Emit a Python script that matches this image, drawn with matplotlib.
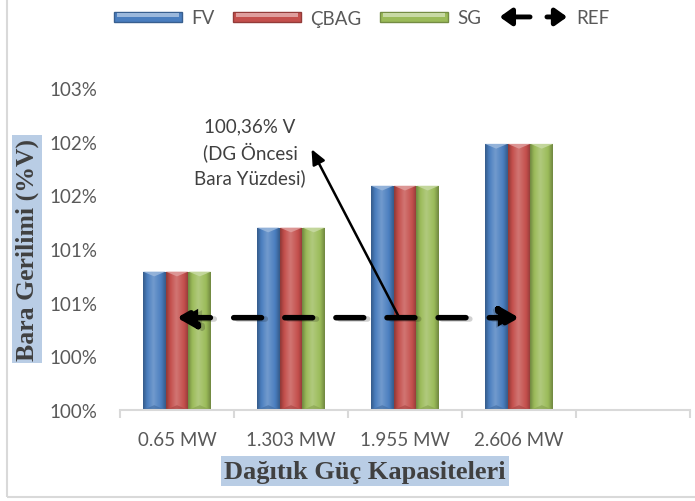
import numpy as np
import matplotlib
matplotlib.use("Agg")
import matplotlib.pyplot as plt
from matplotlib.colors import LinearSegmentedColormap, to_rgb
from matplotlib.patches import Patch, Rectangle, FancyArrowPatch, Polygon
from matplotlib.legend_handler import HandlerBase
from matplotlib.lines import Line2D

# ---- data ----
categories = ["0.65 MW", "1.303 MW", "1.955 MW", "2.606 MW", ""]
series_names = ["FV", "ÇBAG", "SG"]
fv = [100.79, 101.20, 101.59, 101.98]
cbag = [100.79, 101.20, 101.59, 101.98]
sg = [100.79, 101.20, 101.59, 101.98]
ref_value = 100.36
y_ticks = [99.5, 100.0, 100.5, 101.0, 101.5, 102.0, 102.5]
y_tick_labels = ["100%", "100%", "101%", "101%", "102%", "102%", "103%"]
annotation_text = "100,36% V\n(DG Öncesi\nBara Yüzdesi)"
ylabel_text = "Bara Gerilimi (%V)"
xlabel_text = "Dağıtık Güç Kapasiteleri"

colors = ["#4A7EBF", "#C44F4C", "#9BBB59"]
text_gray = "#595959"
label_gray = "#404040"
box_blue = "#B9CDE5"

plt.rcParams["font.family"] = ["Lato", "DejaVu Sans"]

fig = plt.figure(figsize=(6.95, 5.02), dpi=100)
ax = fig.add_axes([120 / 695, 91 / 502, 570 / 695, 322 / 502])

n_cat = len(categories)
x = np.arange(n_cat)
bw = 0.2
offsets = [-bw, 0.0, bw]
all_series = [fv, cbag, sg]


def shade_cmap(base):
    r, g, b = to_rgb(base)
    dark = tuple(c * 0.72 for c in (r, g, b))
    light = tuple(min(1, c + (1 - c) * 0.22) for c in (r, g, b))
    return LinearSegmentedColormap.from_list(
        "s", [(0.0, dark), (0.18, (r, g, b)), (0.45, light), (0.8, (r, g, b)), (1.0, dark)]
    )


grad = np.linspace(0, 1, 64).reshape(1, -1)
bevel_h = 0.045
for vals, off, col in zip(all_series, offsets, colors):
    xs = x[: len(vals)] + off
    bars = ax.bar(xs, np.array(vals) - y_ticks[0], bottom=y_ticks[0], width=bw,
                  color=col, edgecolor="none", zorder=2)
    cmap = shade_cmap(col)
    r, g, b = to_rgb(col)
    top_col = tuple(min(1, c + (1 - c) * 0.45) for c in (r, g, b))
    for rect, v in zip(bars, vals):
        x0 = rect.get_x()
        x1 = x0 + rect.get_width()
        im = ax.imshow(grad, extent=[x0, x1, y_ticks[0], v], aspect="auto",
                       cmap=cmap, zorder=2.1, interpolation="bicubic")
        im.set_clip_path(rect)
        ax.add_patch(Polygon([[x0, v], [x1, v], [(x0 + x1) / 2, v - bevel_h]],
                             closed=True, facecolor=top_col, edgecolor="none",
                             alpha=0.85, zorder=2.2))
        ax.add_patch(Polygon([[x0, y_ticks[0]], [x1, y_ticks[0]], [(x0 + x1) / 2, y_ticks[0] + bevel_h]],
                             closed=True, facecolor=tuple(c * 0.85 for c in (r, g, b)),
                             edgecolor="none", alpha=0.6, zorder=2.2))

ax.set_xlim(-0.5, n_cat - 0.5)
ax.set_ylim(y_ticks[0], y_ticks[-1])

# axes styling
for s in ["top", "right", "left"]:
    ax.spines[s].set_visible(False)
ax.spines["bottom"].set_color("#D9D9D9")
ax.spines["bottom"].set_linewidth(1.5)
ax.set_yticks(y_ticks)
ax.set_yticklabels(y_tick_labels)
ax.tick_params(axis="y", length=0, pad=16, labelsize=13.5, labelcolor=text_gray)
ax.set_xticks(x)
ax.set_xticklabels(categories)
ax.tick_params(axis="x", length=0, pad=15, labelsize=13.5, labelcolor=text_gray)
ax.set_xticks(np.arange(n_cat + 1) - 0.5, minor=True)
ax.tick_params(axis="x", which="minor", length=6, width=1.5, color="#D9D9D9")

# reference line: dashed double-headed arrow
ref_x0 = x[0] + 0.0
ref_x1 = x[3] + 0.0
shadow = FancyArrowPatch((ref_x0 + 0.01, ref_value - 0.012), (ref_x1 + 0.01, ref_value - 0.012),
                         arrowstyle="<|-|>,head_length=7,head_width=4", mutation_scale=1.6,
                         linestyle=(0, (5, 4.2)), linewidth=4, color="#000000", alpha=0.18,
                         zorder=3)
ax.add_patch(shadow)
ref_arrow = FancyArrowPatch((ref_x0, ref_value), (ref_x1, ref_value),
                            arrowstyle="<|-|>,head_length=7,head_width=4", mutation_scale=1.6,
                            linestyle=(0, (5, 4.2)), linewidth=4, color="black", zorder=3.1,
                            shrinkA=0, shrinkB=0)
ax.add_patch(ref_arrow)

# annotation text and pointer
ax.text(0.64, 102.23, annotation_text, ha="center", va="top", fontsize=13.5,
        color=label_gray, linespacing=1.45, zorder=4)
ax.annotate("", xy=(1.18, 101.93), xytext=(1.95, ref_value),
            arrowprops=dict(arrowstyle="-|>,head_length=0.9,head_width=0.4",
                            color="black", lw=1.8, shrinkA=0, shrinkB=0),
            zorder=4)

# axis titles with filled boxes
serif = ["Liberation Serif", "DejaVu Serif"]
fig.text(27 / 695, 1 - 250 / 502, ylabel_text, rotation=90, ha="center", va="center",
         fontsize=18.5, fontweight="bold", family=serif, color=label_gray,
         bbox=dict(boxstyle="square,pad=0.12", facecolor=box_blue, edgecolor="none"))
fig.text(365 / 695, 1 - 472 / 502, xlabel_text, ha="center", va="center",
         fontsize=19, fontweight="bold", family=serif, color=label_gray,
         bbox=dict(boxstyle="square,pad=0.12", facecolor=box_blue, edgecolor="none"))


# legend
class DoubleArrowHandler(HandlerBase):
    def create_artists(self, legend, orig_handle, xdescent, ydescent, width, height,
                       fontsize, trans):
        yc = height / 2 - ydescent
        x0 = -xdescent
        a1 = FancyArrowPatch((x0 + 0.45 * width, yc), (x0, yc),
                             arrowstyle="-|>,head_length=7,head_width=5",
                             mutation_scale=1, lw=3.5, color="black", transform=trans,
                             shrinkA=0, shrinkB=0)
        a2 = FancyArrowPatch((x0 + 0.70 * width, yc), (x0 + width, yc),
                             arrowstyle="-|>,head_length=7,head_width=5",
                             mutation_scale=1, lw=3.5, color="black", transform=trans,
                             shrinkA=0, shrinkB=0)
        return [a1, a2]


class BarHandler(HandlerBase):
    def create_artists(self, legend, orig_handle, xdescent, ydescent, width, height,
                       fontsize, trans):
        col = orig_handle.get_facecolor()
        r, g, b = col[:3]
        h = height * 0.75
        y0 = -ydescent + (height - h) / 2
        dark = tuple(c * 0.75 for c in (r, g, b))
        light = tuple(min(1, c + (1 - c) * 0.45) for c in (r, g, b))
        base = Rectangle((-xdescent, y0), width, h, facecolor=(r, g, b),
                         edgecolor=dark, lw=1, transform=trans)
        top = Rectangle((-xdescent + 2, y0 + h * 0.5), width - 4, h * 0.4,
                        facecolor=light, edgecolor="none", transform=trans)
        return [base, top]


handles = [Patch(facecolor=c) for c in colors] + [Line2D([], [])]
labels = series_names + ["REF"]
handler_map = {h: BarHandler() for h in handles[:3]}
handler_map[handles[3]] = DoubleArrowHandler()
leg = fig.legend(handles, labels, handler_map=handler_map, loc="center",
                 bbox_to_anchor=(362 / 695, 1 - 19 / 502), ncol=4, frameon=False,
                 fontsize=13.5, handlelength=3.6, handleheight=0.7, columnspacing=1.0,
                 handletextpad=0.5)
for t in leg.get_texts():
    t.set_color(text_gray)

# outer chart border
fig.add_artist(Rectangle((7 / 695, 4 / 502), 1.2, 1.2, transform=fig.transFigure,
                         facecolor="none", edgecolor="#D9D9D9", lw=1.5))

fig.savefig("out.png", dpi=100)
